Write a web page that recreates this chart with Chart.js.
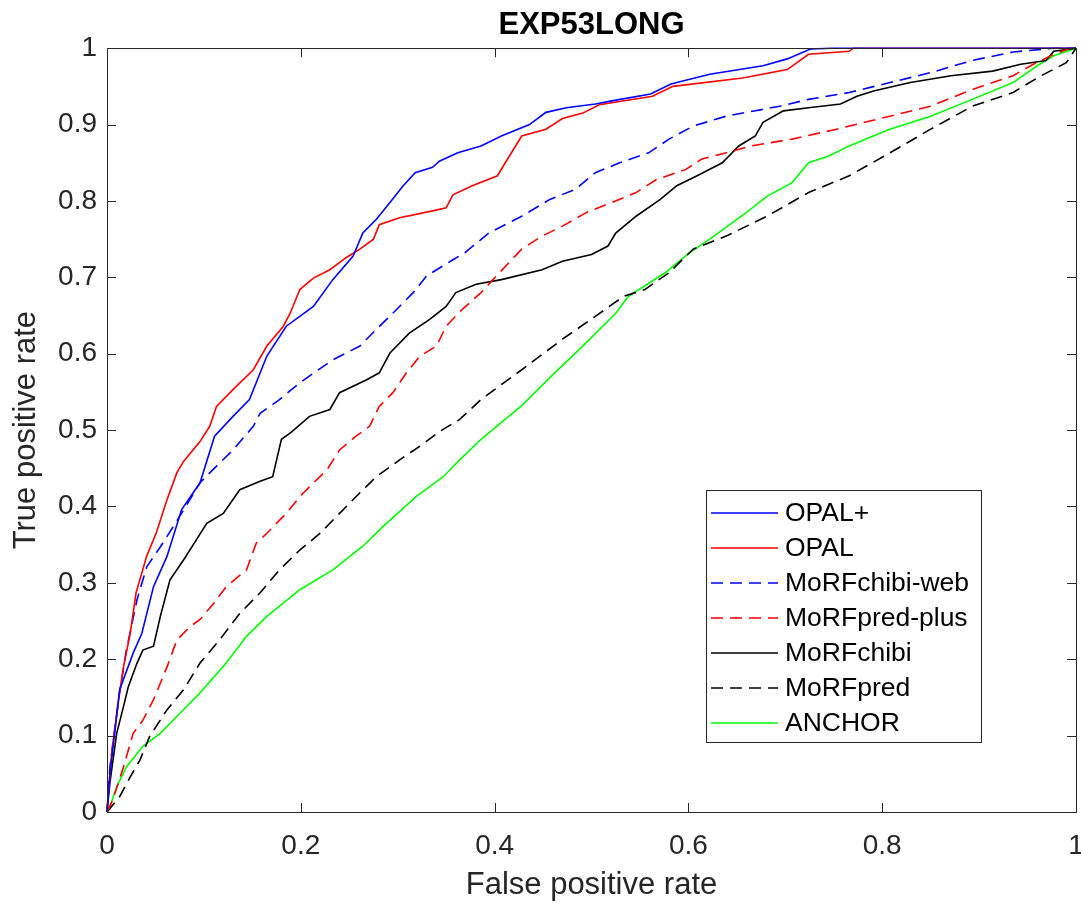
<!DOCTYPE html>
<html>
<head>
<meta charset="utf-8">
<script src="https://cdn.jsdelivr.net/npm/chart.js@4/dist/chart.umd.min.js"></script>
<style>
  html, body { margin: 0; padding: 0; background: #fff; }
  canvas { display: block; }
</style>
</head>
<body>
<canvas id="roc" width="1081" height="911"></canvas>
<script>
// ROC curves, [false positive rate, true positive rate]
const seriesNames = ['OPAL+', 'OPAL', 'MoRFchibi-web', 'MoRFpred-plus', 'MoRFchibi', 'MoRFpred', 'ANCHOR'];

const opalPlus = [[0,0],[0.003,0.05],[0.008,0.104],[0.013,0.16],[0.027,0.208],[0.036,0.234],[0.048,0.295],[0.062,0.335],[0.077,0.396],[0.096,0.431],[0.111,0.492],[0.13,0.518],[0.147,0.54],[0.165,0.597],[0.185,0.636],[0.213,0.662],[0.233,0.697],[0.254,0.728],[0.264,0.758],[0.278,0.776],[0.292,0.798],[0.305,0.819],[0.318,0.837],[0.336,0.844],[0.343,0.852],[0.362,0.863],[0.386,0.872],[0.407,0.885],[0.436,0.9],[0.453,0.916],[0.474,0.922],[0.504,0.927],[0.521,0.931],[0.561,0.94],[0.582,0.953],[0.622,0.966],[0.677,0.977],[0.702,0.986],[0.726,0.999],[0.748,1],[1,1]];

const opal = [[0,0],[0.005,0.08],[0.012,0.147],[0.017,0.19],[0.024,0.234],[0.03,0.287],[0.041,0.335],[0.051,0.366],[0.062,0.409],[0.072,0.444],[0.079,0.459],[0.096,0.485],[0.106,0.505],[0.113,0.531],[0.13,0.553],[0.151,0.579],[0.165,0.61],[0.182,0.636],[0.189,0.653],[0.199,0.684],[0.213,0.699],[0.23,0.71],[0.247,0.726],[0.261,0.737],[0.275,0.75],[0.281,0.769],[0.302,0.778],[0.336,0.787],[0.35,0.791],[0.357,0.808],[0.377,0.82],[0.403,0.833],[0.411,0.85],[0.428,0.885],[0.453,0.894],[0.47,0.908],[0.491,0.915],[0.508,0.926],[0.563,0.937],[0.584,0.95],[0.656,0.961],[0.702,0.972],[0.724,0.992],[0.766,0.996],[0.77,1],[1,1]];

const morfchibiWeb = [[0,0],[0.003,0.059],[0.013,0.156],[0.02,0.212],[0.031,0.278],[0.041,0.321],[0.055,0.347],[0.075,0.387],[0.096,0.431],[0.106,0.444],[0.13,0.474],[0.151,0.505],[0.158,0.522],[0.178,0.54],[0.199,0.562],[0.233,0.592],[0.261,0.61],[0.278,0.632],[0.295,0.653],[0.316,0.68],[0.33,0.702],[0.357,0.723],[0.369,0.732],[0.394,0.758],[0.428,0.78],[0.457,0.802],[0.483,0.815],[0.504,0.837],[0.529,0.85],[0.559,0.863],[0.58,0.881],[0.605,0.898],[0.639,0.911],[0.694,0.924],[0.724,0.933],[0.766,0.942],[0.808,0.955],[0.85,0.968],[0.893,0.984],[0.935,0.995],[0.977,1],[1,1]];

const morfpredPlus = [[0,0],[0.006,0.016],[0.017,0.059],[0.027,0.103],[0.037,0.12],[0.048,0.147],[0.062,0.19],[0.072,0.225],[0.086,0.243],[0.096,0.252],[0.11,0.273],[0.123,0.295],[0.144,0.317],[0.154,0.352],[0.165,0.365],[0.185,0.391],[0.202,0.417],[0.227,0.448],[0.24,0.474],[0.257,0.492],[0.271,0.505],[0.281,0.531],[0.295,0.549],[0.309,0.575],[0.323,0.597],[0.34,0.61],[0.35,0.636],[0.364,0.655],[0.386,0.68],[0.402,0.702],[0.428,0.737],[0.449,0.754],[0.47,0.767],[0.495,0.785],[0.521,0.798],[0.546,0.811],[0.567,0.828],[0.597,0.841],[0.614,0.855],[0.639,0.863],[0.664,0.872],[0.707,0.881],[0.753,0.894],[0.808,0.911],[0.85,0.924],[0.893,0.946],[0.935,0.964],[0.956,0.979],[0.977,0.992],[0.994,1],[1,1]];

const morfchibi = [[0,0],[0.003,0.038],[0.01,0.103],[0.017,0.138],[0.022,0.164],[0.031,0.195],[0.037,0.212],[0.048,0.217],[0.055,0.256],[0.065,0.304],[0.079,0.33],[0.092,0.356],[0.103,0.378],[0.12,0.391],[0.137,0.422],[0.158,0.433],[0.171,0.439],[0.18,0.488],[0.189,0.496],[0.209,0.518],[0.23,0.527],[0.24,0.549],[0.268,0.566],[0.281,0.575],[0.292,0.601],[0.312,0.627],[0.333,0.645],[0.35,0.662],[0.36,0.68],[0.381,0.691],[0.407,0.697],[0.449,0.71],[0.47,0.721],[0.5,0.73],[0.517,0.741],[0.525,0.758],[0.546,0.78],[0.571,0.802],[0.588,0.82],[0.609,0.833],[0.635,0.85],[0.652,0.872],[0.669,0.885],[0.677,0.903],[0.698,0.918],[0.724,0.922],[0.757,0.927],[0.774,0.937],[0.791,0.944],[0.829,0.955],[0.871,0.964],[0.914,0.97],[0.943,0.979],[0.969,0.984],[0.977,0.996],[0.994,0.999],[1,1]];

const morfpred = [[0,0],[0.013,0.02],[0.024,0.046],[0.034,0.068],[0.044,0.099],[0.062,0.134],[0.079,0.16],[0.096,0.195],[0.116,0.225],[0.137,0.26],[0.158,0.287],[0.178,0.317],[0.199,0.343],[0.22,0.365],[0.24,0.391],[0.261,0.418],[0.278,0.439],[0.302,0.461],[0.323,0.479],[0.343,0.498],[0.364,0.514],[0.386,0.54],[0.428,0.579],[0.47,0.619],[0.504,0.649],[0.533,0.675],[0.555,0.684],[0.58,0.706],[0.605,0.737],[0.639,0.754],[0.681,0.78],[0.724,0.811],[0.766,0.833],[0.808,0.863],[0.85,0.894],[0.893,0.924],[0.935,0.942],[0.964,0.964],[0.99,0.981],[1,1]];

const anchor = [[0,0],[0.003,0.007],[0.01,0.033],[0.02,0.059],[0.027,0.07],[0.037,0.086],[0.055,0.103],[0.075,0.129],[0.096,0.156],[0.123,0.195],[0.144,0.23],[0.165,0.256],[0.199,0.291],[0.233,0.317],[0.264,0.348],[0.285,0.374],[0.319,0.413],[0.347,0.439],[0.364,0.461],[0.386,0.488],[0.428,0.532],[0.462,0.575],[0.491,0.61],[0.525,0.653],[0.538,0.675],[0.576,0.706],[0.601,0.732],[0.622,0.75],[0.66,0.785],[0.681,0.806],[0.707,0.824],[0.724,0.85],[0.745,0.859],[0.766,0.872],[0.787,0.883],[0.808,0.894],[0.85,0.911],[0.893,0.933],[0.935,0.955],[0.96,0.977],[0.977,0.99],[1,1]];

const xTicks = [0, 0.2, 0.4, 0.6, 0.8, 1];
const yTicks = [0, 0.1, 0.2, 0.3, 0.4, 0.5, 0.6, 0.7, 0.8, 0.9, 1];

const FONT = "'Liberation Sans', Arial, Helvetica, sans-serif";
const AXIS_COLOR = '#262626';
const DASH = [12, 7];

const seriesData = [opalPlus, opal, morfchibiWeb, morfpredPlus, morfchibi, morfpred, anchor];
const seriesColors = ['#0000ff', '#ff0000', '#0000ff', '#ff0000', '#000000', '#000000', '#00ff00'];
const seriesDashed = [false, false, true, true, false, true, false];

const datasets = seriesNames.map((name, i) => ({
    label: name,
    data: seriesData[i].map(p => ({ x: p[0], y: p[1] })),
    borderColor: seriesColors[i],
    borderWidth: 1.6,
    borderDash: seriesDashed[i] ? DASH : [],
    showLine: true,
    fill: false,
    tension: 0,
    pointRadius: 0,
    pointHoverRadius: 0,
    clip: 3
}));

const fmt = v => String(Number(v.toFixed(1)));

// matlab style box, inward ticks and legend
const boxPlugin = {
    id: 'matlabBox',
    afterDatasetsDraw(chart) {
        const { ctx, chartArea: a, scales } = chart;
        const tl = 9;
        ctx.save();
        ctx.strokeStyle = AXIS_COLOR;
        ctx.lineWidth = 1;
        ctx.beginPath();
        xTicks.forEach(v => {
            const px = Math.round(scales.x.getPixelForValue(v)) + 0.5;
            ctx.moveTo(px, a.bottom); ctx.lineTo(px, a.bottom - tl);
            ctx.moveTo(px, a.top); ctx.lineTo(px, a.top + tl);
        });
        yTicks.forEach(v => {
            const py = Math.round(scales.y.getPixelForValue(v)) + 0.5;
            ctx.moveTo(a.left, py); ctx.lineTo(a.left + tl, py);
            ctx.moveTo(a.right, py); ctx.lineTo(a.right - tl, py);
        });
        ctx.stroke();
        ctx.strokeRect(Math.round(a.left) + 0.5, Math.round(a.top) + 0.5,
            Math.round(a.right - a.left), Math.round(a.bottom - a.top));

        // legend
        const lg = { left: 706, top: 490, width: 275, height: 252, row0: 513, rowGap: 35 };
        ctx.fillStyle = '#fff';
        ctx.fillRect(lg.left, lg.top, lg.width, lg.height);
        ctx.strokeRect(lg.left + 0.5, lg.top + 0.5, lg.width, lg.height);
        chart.data.datasets.forEach((ds, i) => {
            const y = lg.row0 + i * lg.rowGap;
            ctx.beginPath();
            ctx.strokeStyle = ds.borderColor;
            ctx.lineWidth = 1.6;
            ctx.setLineDash(ds.borderDash);
            ctx.moveTo(lg.left + 5, y);
            ctx.lineTo(lg.left + 72, y);
            ctx.stroke();
            ctx.setLineDash([]);
            ctx.fillStyle = '#000';
            ctx.font = '26.5px ' + FONT;
            ctx.textBaseline = 'middle';
            ctx.textAlign = 'left';
            ctx.fillText(ds.label, lg.left + 79, y + 1);
        });
        ctx.restore();
    }
};

new Chart(document.getElementById('roc'), {
    type: 'scatter',
    data: { datasets },
    options: {
        responsive: false,
        animation: false,
        layout: { padding: { left: 0, right: 5, top: 0, bottom: 0 } },
        plugins: {
            legend: { display: false },
            tooltip: { enabled: false },
            title: {
                display: true,
                text: 'EXP53LONG',
                fullSize: false,
                color: '#000',
                font: { family: FONT, size: 31, weight: 'bold' },
                padding: { top: 7, bottom: 4 }
            }
        },
        scales: {
            x: {
                type: 'linear',
                min: 0, max: 1,
                afterFit: s => { s.height = 99; s.paddingLeft = 0; s.paddingRight = 0; },
                afterBuildTicks: s => { s.ticks = xTicks.map(v => ({ value: v })); },
                grid: { display: false, drawTicks: false },
                border: { display: false },
                ticks: { padding: 17, color: AXIS_COLOR, font: { family: FONT, size: 28 }, callback: fmt, maxRotation: 0 },
                title: { display: true, text: 'False positive rate', color: AXIS_COLOR, font: { family: FONT, size: 31 }, padding: { top: 0, bottom: 7 } }
            },
            y: {
                type: 'linear',
                min: 0, max: 1,
                afterFit: s => { s.width = 107; s.paddingTop = 0; s.paddingBottom = 0; },
                afterBuildTicks: s => { s.ticks = yTicks.map(v => ({ value: v })); },
                grid: { display: false, drawTicks: false },
                border: { display: false },
                ticks: { padding: 10, color: AXIS_COLOR, font: { family: FONT, size: 28 }, callback: fmt },
                title: { display: true, text: 'True positive rate', color: AXIS_COLOR, font: { family: FONT, size: 31 }, padding: { top: 8, bottom: 0 } }
            }
        }
    },
    plugins: [boxPlugin]
});
</script>
</body>
</html>
